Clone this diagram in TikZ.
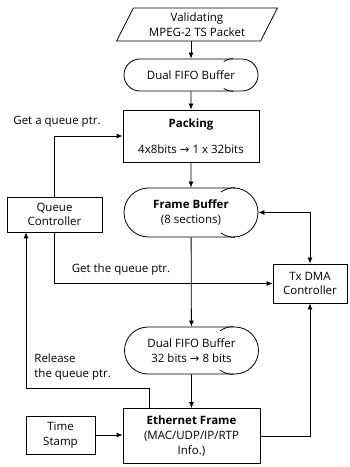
\documentclass[tikz,border=0pt]{standalone}
\usepackage{fontspec}
\setmainfont{Open Sans}
\newfontfamily\symfont{DejaVu Sans}
\usetikzlibrary{shapes.geometric,shapes.misc,arrows.meta}
\newcommand{\arr}{{\symfont\char"2192}}
\newcommand{\curls}[3]{%
  \draw ([xshift=#2]#1.north) arc (90:125:#3);
  \draw ([xshift=#2]#1.south) arc (270:235:#3);}
\tikzset{
  box/.style={draw, rectangle, align=center, inner sep=2pt},
  buffer/.style={draw, rounded rectangle, align=center, minimum width=138pt, inner sep=2pt},
  lbl/.style={align=left, inner sep=0pt},
  >={Latex[length=6pt,width=5pt]},
}
\begin{document}
\begin{tikzpicture}[x=1pt, y=1pt, line width=0.8pt, font=\fontsize{11.5}{14.5}\selectfont]
    \useasboundingbox (0,0) rectangle (350,467);
    \node[draw, trapezium, trapezium left angle=63, trapezium right angle=117, trapezium stretches=true,
      minimum width=161pt, minimum height=33pt, align=center, inner sep=1pt] (tsin) at (197,442.5) {Validating\\MPEG-2 TS Packet};
    \node[buffer, minimum height=32pt] (fifoA) at (191,392) {Dual FIFO Buffer};
    \node[box, minimum width=136pt, minimum height=52pt] (packing) at (191,331) {\textbf{Packing}\\[12pt]4x8bits \arr{} 1 x 32bits};
    \node[buffer, minimum height=49pt] (frame) at (191,254.5) {\textbf{Frame Buffer}\\[1pt](8 sections)};
    \node[box, minimum width=95pt, minimum height=35pt] (queue) at (54.5,252.5) {Queue\\Controller};
    \node[box, minimum width=74pt, minimum height=39pt] (txdma) at (310,183.5) {Tx DMA\\Controller};
    \node[buffer, minimum height=47pt] (fifoB) at (191.5,116.5) {Dual FIFO Buffer\\32 bits \arr{} 8 bits};
    \node[box, minimum width=137pt, minimum height=55pt] (ether) at (191.5,31) {\textbf{Ethernet Frame}\\[1pt](MAC/UDP/IP/RTP\\Info.)};
    \node[box, minimum width=69pt, minimum height=38pt] (stamp) at (60.5,32) {Time\\Stamp};
    \curls{fifoA}{42pt}{16pt}
    \curls{frame}{44pt}{24.5pt}
    \curls{fifoB}{42pt}{23.5pt}
    % labels on the queue lines
    \node[lbl] (getA) at (57,345) {Get a queue ptr.};
    \node[lbl] (getB) at (121,197) {Get the queue ptr.};
    \node[lbl, anchor=west] (release) at (34,100) {Release\\the queue ptr.};
    % data path
    \draw[->] (tsin.south -| fifoA.north) -- (fifoA.north);
    \draw[->] (fifoA) -- (packing);
    \draw[->] (packing) -- (frame);
    \draw[->] (frame) -- (fifoB);
    \draw[->] (fifoB) -- (ether);
    \draw[->] (stamp.east) -- (stamp.east -| ether.west);
    % queue pointer and DMA lines
    \draw[->] (queue.north) |- (packing.west);
    \draw[->] (queue.south) |- (txdma.west);
    \draw[<->] (frame.east) -| (txdma.north);
    \draw[->] (ether.east) -| (txdma.south);
    \coordinate (bend) at (26,79);
    \draw[->] ([xshift=27pt]ether.north west) |- (bend) -- (bend |- queue.south);
\end{tikzpicture}
\end{document}
